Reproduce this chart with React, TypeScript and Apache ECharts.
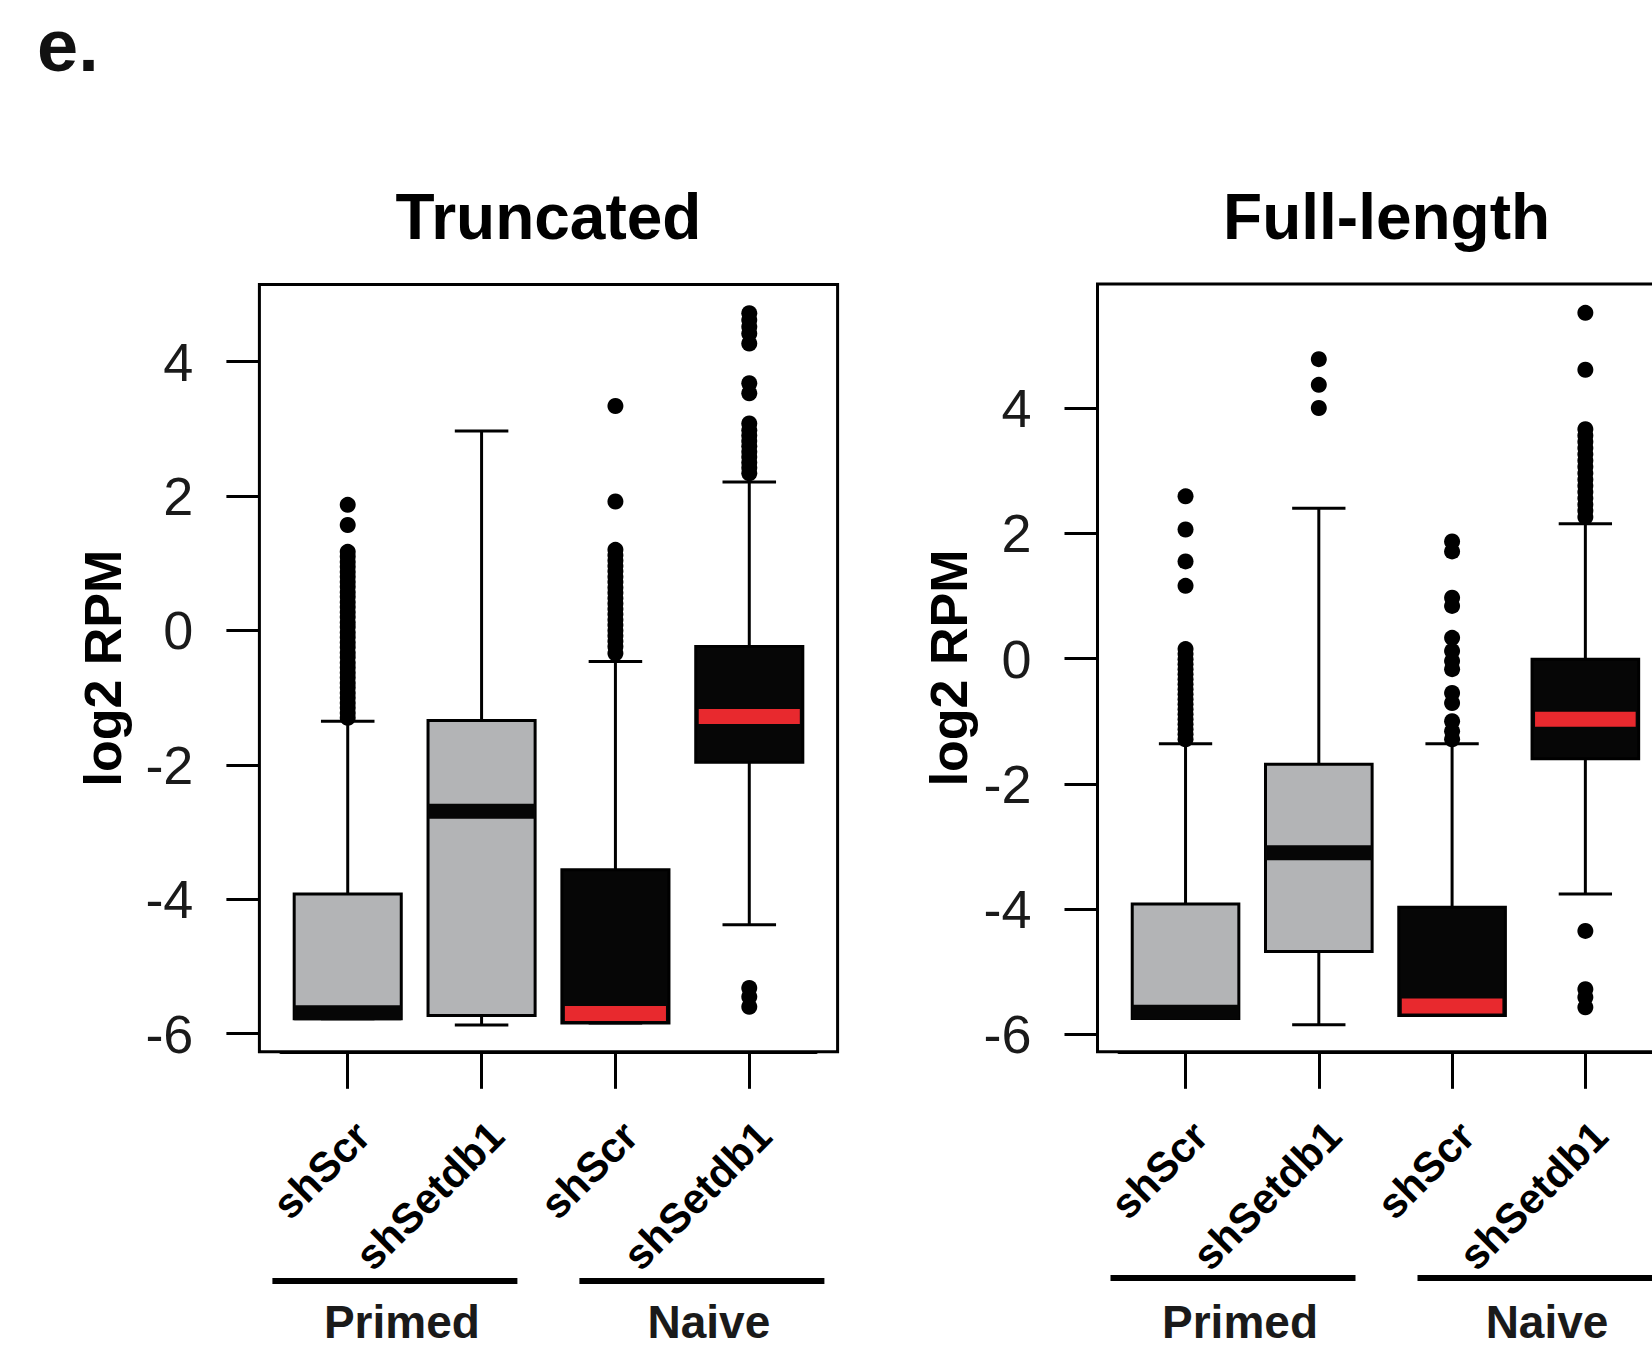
import React, { useEffect, useRef } from "react";
import * as echarts from "echarts";

// ---------- data ----------
const categories = ["shScr", "shSetdb1", "shScr", "shSetdb1"];
const categoryGroup = [0, 0, 1, 1]; // 0 = Primed, 1 = Naive
const groupNames = ["Primed", "Naive"];
const panelTitles = ["Truncated", "Full-length"];
const yAxisTitle = "log2 RPM";
const yTickValues = [-6, -4, -2, 0, 2, 4];

// Truncated panel: box statistics
const truncLowerWhisker = [-5.78, -5.87, -5.84, -4.38];
const truncQ1 = [-5.78, -5.73, -5.84, -1.96];
const truncMedian = [-5.69, -2.69, -5.7, -1.28];
const truncQ3 = [-3.92, -1.34, -3.56, -0.24];
const truncUpperWhisker = [-1.35, 2.97, -0.46, 2.21];
// Truncated panel: outliers
const truncOutPrimedScr = [
  1.87, 1.57, 1.17, 1.1, 1.02, 0.95, 0.87, 0.8, 0.72, 0.65, 0.57, 0.5, 0.42, 0.35, 0.27, 0.2, 0.12,
  0.05, -0.03, -0.1, -0.18, -0.25, -0.33, -0.4, -0.48, -0.55, -0.63, -0.7, -0.78, -0.85, -0.93, -1.0,
  -1.08, -1.15, -1.23, -1.3,
];
const truncOutPrimedSetdb1: number[] = [];
const truncOutNaiveScr = [
  3.34, 1.92, 1.2, 1.12, 1.04, 0.96, 0.88, 0.8, 0.72, 0.64, 0.56, 0.48, 0.4, 0.32, 0.24, 0.16, 0.08, 0.0,
  -0.08, -0.16, -0.24, -0.34,
];
const truncOutNaiveSetdb1 = [
  4.72, 4.62, 4.52, 4.42, 4.27, 3.68, 3.53, 3.08, 2.98, 2.9, 2.82, 2.74, 2.66, 2.58, 2.5, 2.42, 2.34,
  -5.32, -5.45, -5.6,
];

// Full-length panel: box statistics
const fullLowerWhisker = [-5.75, -5.85, -5.7, -3.76];
const fullQ1 = [-5.75, -4.68, -5.7, -1.6];
const fullMedian = [-5.65, -3.1, -5.55, -0.97];
const fullQ3 = [-3.92, -1.69, -3.97, -0.01];
const fullUpperWhisker = [-1.36, 2.4, -1.36, 2.15];
// Full-length panel: outliers
const fullOutPrimedScr = [
  2.59, 2.06, 1.55, 1.16, 0.15, 0.07, -0.01, -0.09, -0.17, -0.25, -0.33, -0.41, -0.49, -0.57, -0.65,
  -0.73, -0.81, -0.89, -0.97, -1.05, -1.13, -1.21, -1.29,
];
const fullOutPrimedSetdb1 = [4.78, 4.37, 4.0];
const fullOutNaiveScr = [1.87, 1.71, 0.97, 0.84, 0.33, 0.12, -0.04, -0.17, -0.55, -0.71, -1.0, -1.16, -1.29];
const fullOutNaiveSetdb1 = [
  5.52, 4.61, 3.66, 3.56, 3.46, 3.36, 3.26, 3.16, 3.06, 2.96, 2.86, 2.76, 2.66, 2.56, 2.46, 2.36, 2.26,
  -4.35, -5.28, -5.41, -5.57,
];

// axis ranges (R adds 4% around the data range)
const truncRange = [-6.27, 5.15];
const fullRange = [-6.28, 5.98];

// ---------- helpers ----------
const FONT = "Liberation Sans, Arial, Helvetica, sans-serif";
const GREY = "#b3b4b6";
const DARK = "#060606";
const RED = "#e8292e";

function boxData(lo: number[], q1: number[], med: number[], q3: number[], hi: number[]) {
  return categories.map((_, i) => [i, lo[i], q1[i], med[i], q3[i], hi[i], categoryGroup[i]]);
}

function outlierData(lists: number[][]) {
  const out: number[][] = [];
  lists.forEach((vals, i) => vals.forEach((v) => out.push([i, v])));
  return out;
}

const renderBox = (_params: any, api: any) => {
  const i = api.value(0);
  const lo = api.value(1);
  const q1 = api.value(2);
  const med = api.value(3);
  const q3 = api.value(4);
  const hi = api.value(5);
  const dark = api.value(6) === 1;
  const band = api.size([1, 0])[0];
  const bw = band * 0.8;
  const cw = band * 0.4;
  const pLo = api.coord([i, lo]);
  const pQ1 = api.coord([i, q1]);
  const pMed = api.coord([i, med]);
  const pQ3 = api.coord([i, q3]);
  const pHi = api.coord([i, hi]);
  const cx = pLo[0];
  const ln = { stroke: "#000", lineWidth: 3 };
  const inset = dark ? 3 : 0;
  return {
    type: "group",
    children: [
      { type: "line", shape: { x1: cx, y1: pLo[1], x2: cx, y2: pQ1[1] }, style: ln },
      { type: "line", shape: { x1: cx, y1: pQ3[1], x2: cx, y2: pHi[1] }, style: ln },
      { type: "line", shape: { x1: cx - cw / 2, y1: pLo[1], x2: cx + cw / 2, y2: pLo[1] }, style: ln },
      { type: "line", shape: { x1: cx - cw / 2, y1: pHi[1], x2: cx + cw / 2, y2: pHi[1] }, style: ln },
      {
        type: "rect",
        shape: { x: cx - bw / 2, y: pQ3[1], width: bw, height: pQ1[1] - pQ3[1] },
        style: { fill: dark ? DARK : GREY, stroke: "#000", lineWidth: 3 },
      },
      {
        type: "rect",
        shape: { x: cx - bw / 2 + inset, y: pMed[1] - 7.5, width: bw - 2 * inset, height: 15 },
        style: { fill: dark ? RED : DARK },
      },
    ],
  };
};

// panel geometry
const panels = [
  { frameX: 259.4, top: 284.4, height: 767.4, gap: 130, range: truncRange },
  { frameX: 1097.5, top: 284, height: 767.8, gap: 123, range: fullRange },
];
const FRAME_W = 578.2;
const PAD = 21.4; // R's 4% x-extension, in px
const GRID_W = FRAME_W - 2 * PAD;

export default function App() {
  const ref = useRef<HTMLDivElement>(null);

  useEffect(() => {
    document.body.style.margin = "0";
    if (!ref.current) return;
    const chart = echarts.init(ref.current, null, { renderer: "svg" });

    const grids = panels.map((p) => ({
      left: p.frameX + PAD,
      top: p.top,
      width: GRID_W,
      height: p.height,
      containLabel: false,
    }));

    const xAxes = panels.map((_, gi) => ({
      type: "category",
      gridIndex: gi,
      position: "bottom",
      data: categories,
      boundaryGap: true,
      axisLine: { show: true, onZero: false, lineStyle: { color: "#000", width: 3 } },
      axisTick: { show: true, alignWithLabel: true, length: 37, lineStyle: { color: "#000", width: 3 } },
      axisLabel: {
        interval: 0,
        rotate: 45,
        margin: 62,
        verticalAlign: "top",
        fontSize: 42,
        fontWeight: "bold",
        fontFamily: FONT,
        color: "#000",
      },
      splitLine: { show: false },
    }));

    const yAxes = panels.map((p, gi) => ({
      type: "value",
      gridIndex: gi,
      min: p.range[0],
      max: p.range[1],
      offset: PAD,
      axisLine: { show: false },
      axisTick: { show: true, length: 33, customValues: yTickValues, lineStyle: { color: "#000", width: 3 } },
      axisLabel: {
        customValues: yTickValues,
        margin: 66,
        fontSize: 54,
        fontFamily: FONT,
        color: "#1a1a1a",
      },
      splitLine: { show: false },
      name: yAxisTitle,
      nameLocation: "middle",
      nameRotate: 90,
      nameGap: p.gap,
      nameTextStyle: { fontSize: 52, fontWeight: "bold", fontFamily: FONT, color: "#000" },
    }));

    const statSets = [
      boxData(truncLowerWhisker, truncQ1, truncMedian, truncQ3, truncUpperWhisker),
      boxData(fullLowerWhisker, fullQ1, fullMedian, fullQ3, fullUpperWhisker),
    ];
    const outSets = [
      outlierData([truncOutPrimedScr, truncOutPrimedSetdb1, truncOutNaiveScr, truncOutNaiveSetdb1]),
      outlierData([fullOutPrimedScr, fullOutPrimedSetdb1, fullOutNaiveScr, fullOutNaiveSetdb1]),
    ];

    const series: any[] = [];
    panels.forEach((_, gi) => {
      series.push({
        type: "custom",
        xAxisIndex: gi,
        yAxisIndex: gi,
        renderItem: renderBox,
        encode: { x: 0, y: [1, 2, 3, 4, 5] },
        data: statSets[gi],
        z: 2,
      });
      series.push({
        type: "scatter",
        xAxisIndex: gi,
        yAxisIndex: gi,
        symbol: "circle",
        symbolSize: 16,
        itemStyle: { color: "#000", opacity: 1 },
        data: outSets[gi],
        z: 3,
      });
    });

    const graphics: any[] = [
      {
        type: "text",
        left: 37,
        top: 8,
        style: { text: "e.", font: `bold 74px ${FONT}`, fill: "#111" },
      },
    ];
    panels.forEach((p, gi) => {
      const cx = p.frameX + FRAME_W / 2;
      graphics.push({
        type: "rect",
        shape: { x: p.frameX, y: p.top, width: FRAME_W, height: p.height },
        style: { fill: "none", stroke: "#000", lineWidth: 3 },
        z: 10,
      });
      graphics.push({
        type: "text",
        x: cx,
        y: 217,
        style: {
          text: panelTitles[gi],
          font: `bold 64px ${FONT}`,
          fill: "#000",
          textAlign: "center",
          textVerticalAlign: "middle",
        },
      });
      // group bars + labels (Primed / Naive)
      const lineY = gi === 0 ? 1281 : 1278;
      const segs = [
        [p.frameX + 13, p.frameX + 258],
        [p.frameX + 320, p.frameX + 565],
      ];
      segs.forEach((s, k) => {
        graphics.push({
          type: "line",
          shape: { x1: s[0], y1: lineY, x2: s[1], y2: lineY },
          style: { stroke: "#000", lineWidth: 6 },
        });
        graphics.push({
          type: "text",
          x: (s[0] + s[1]) / 2 + 7,
          y: 1322,
          style: {
            text: groupNames[k],
            font: `bold 46px ${FONT}`,
            fill: "#1a1a1a",
            textAlign: "center",
            textVerticalAlign: "middle",
          },
        });
      });
    });

    chart.setOption({
      animation: false,
      backgroundColor: "#ffffff",
      grid: grids,
      xAxis: xAxes,
      yAxis: yAxes,
      series,
      graphic: graphics,
    });

    return () => chart.dispose();
  }, []);

  return <div ref={ref} style={{ width: 1652, height: 1350 }} />;
}
